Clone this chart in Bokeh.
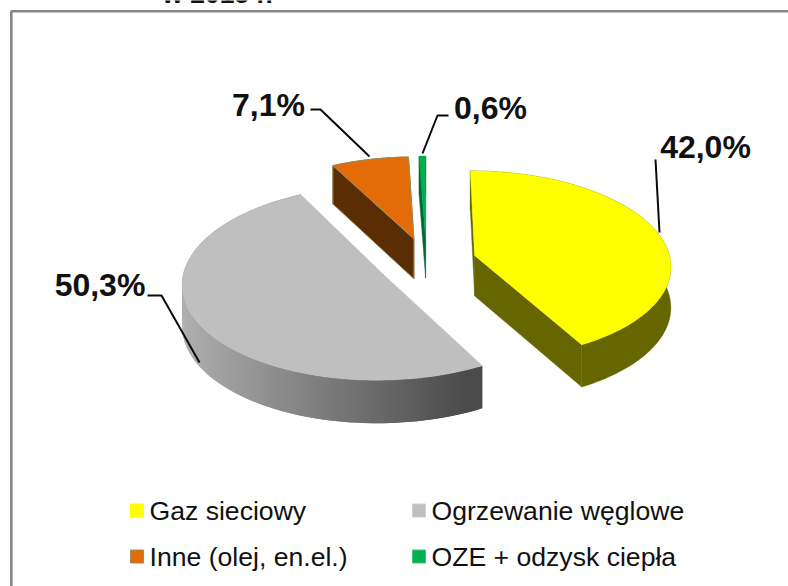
import math
from bokeh.plotting import figure
from bokeh.models import Range1d
from bokeh.core.properties import value
from bokeh.embed import file_html
from bokeh.resources import INLINE

categories = ["Gaz sieciowy", "Ogrzewanie węglowe", "Inne (olej, en.el.)", "OZE + odzysk ciepła"]
shares = [42.0, 50.3, 7.1, 0.6]
top_colors = ["#FFFF00", "#BFBFBF", "#E36C09", "#00B050"]
side_colors = ["#666600", "#4D4D4D", "#5A2D04", "#00693A"]
edge_colors = [None, None, "#A08A5A", None]
title_tail = "w 2015 r."

W, H = 788, 586
CX, CY = 426.0, 261.0      # projected pie centre
RX, RY = 196.0, 94.2       # projected radii
PERSP = 0.0986             # perspective strength
EXPLODE = 0.255
DEPTH = 40.5


def project(X, Y):
    s = 1.0 / (1.0 + PERSP * Y)
    return CX + RX * X * s, CY - RY * Y * s, DEPTH * (0.5 + 0.5 * s)


def lerp_hex(a, b, t):
    ca = [int(a[i:i + 2], 16) for i in (1, 3, 5)]
    cb = [int(b[i:i + 2], 16) for i in (1, 3, 5)]
    return "#%02x%02x%02x" % tuple(round(x + (y - x) * t) for x, y in zip(ca, cb))


p = figure(width=W, height=H, x_range=Range1d(0, W), y_range=Range1d(H, 0),
           toolbar_location=None, output_backend="svg", min_border=0,
           outline_line_color=None,
           background_fill_color="white", border_fill_color="white")
p.axis.visible = False
p.grid.visible = False

# frame
p.line([W, 10.8, 10.8], [10.7, 10.7, H], line_color="#868686", line_width=2.6)

# slices
total = sum(shares)
angle = 0.0
slices = []
for i, v in enumerate(shares):
    a0 = angle
    a1 = angle + v / total * 2 * math.pi
    angle = a1
    slices.append((i, a0, a1))

for i, a0, a1 in [slices[3], slices[2], slices[0], slices[1]]:
    mid = (a0 + a1) / 2
    ox, oy = EXPLODE * math.sin(mid), EXPLODE * math.cos(mid)
    n = max(4, int((a1 - a0) * 60))
    ts = [a0 + (a1 - a0) * k / n for k in range(n + 1)]
    rim = [project(ox + math.sin(t), oy + math.cos(t)) for t in ts]
    apex = project(ox, oy)
    edge = edge_colors[i] or side_colors[i]
    edge_w = 1.0 if edge_colors[i] else 0.4

    # outer wall; the coal slice carries a gradient, the others a flat colour
    if i == 1:
        xs, ys, cols = [], [], []
        for k in range(n):
            A, B = rim[k], rim[min(k + 2, n)]
            xs.append([A[0], B[0], B[0], A[0]])
            ys.append([A[1], B[1], B[1] + B[2], A[1] + A[2]])
            t = min(1.0, max(0.0, (A[0] - 185) / (470 - 185)))
            cols.append(lerp_hex("#AEAEAE", "#4B4B4B", t))
        p.patches(xs[::-1], ys[::-1], fill_color=cols[::-1], line_color=None)
    else:
        p.patch([r[0] for r in rim] + [r[0] for r in rim[::-1]],
                [r[1] for r in rim] + [r[1] + r[2] for r in rim[::-1]],
                fill_color=side_colors[i], line_color=edge, line_width=edge_w)
        # cut faces
        for q in (rim[-1], rim[0]):
            p.patch([apex[0], q[0], q[0], apex[0]],
                    [apex[1], q[1], q[1] + q[2], apex[1] + apex[2]],
                    fill_color=side_colors[i], line_color=edge, line_width=edge_w)

    # top surface
    tx = [apex[0]] + [r[0] for r in rim]
    ty = [apex[1]] + [r[1] for r in rim]
    p.patch(tx, ty, fill_color=top_colors[i], line_color=edge_colors[i] or top_colors[i],
            line_width=edge_w)

# leader lines
leader_x = [[655, 659], [147, 161, 199], [310, 320, 369], [448, 437, 422]]
leader_y = [[159, 232], [295, 295, 362], [109, 109, 156], [115, 115, 153]]
p.multi_line(leader_x, leader_y, line_color="#0A0A0A", line_width=2)

# data labels
labels = [f"{v:.1f}".replace(".", ",") + "%" for v in shares]
label_x = [705, 99.5, 268, 490]
label_y = [146, 284, 104, 107]
p.text(label_x, label_y, text=labels, text_font=value("Liberation Sans"),
       text_font_style="bold", text_font_size=value("32px"), text_color="#111111",
       text_align="center", text_baseline="middle")

# clipped title line
p.text([217], [-7], text=[title_tail], text_font=value("Liberation Sans"),
       text_font_style="bold", text_font_size=value("26.5px"), text_color="#111111",
       text_align="center", text_baseline="alphabetic")

# legend
leg_x = [130, 412, 130, 412]
leg_y = [510, 510, 556, 556]
SW = 13
p.quad(left=leg_x, right=[x + SW for x in leg_x],
       top=[y - SW / 2 for y in leg_y], bottom=[y + SW / 2 for y in leg_y],
       fill_color=top_colors, line_color=["#FFFF00", "#D0D0D0", "#A08A5A", "#40C880"], line_width=1)
p.text([x + 19 for x in leg_x], leg_y, text=categories, text_font=value("Liberation Sans"),
       text_font_size=value("26.6px"), text_color="#111111", text_align="left",
       text_baseline="middle")

open("out.html", "w").write(file_html(p, INLINE))
